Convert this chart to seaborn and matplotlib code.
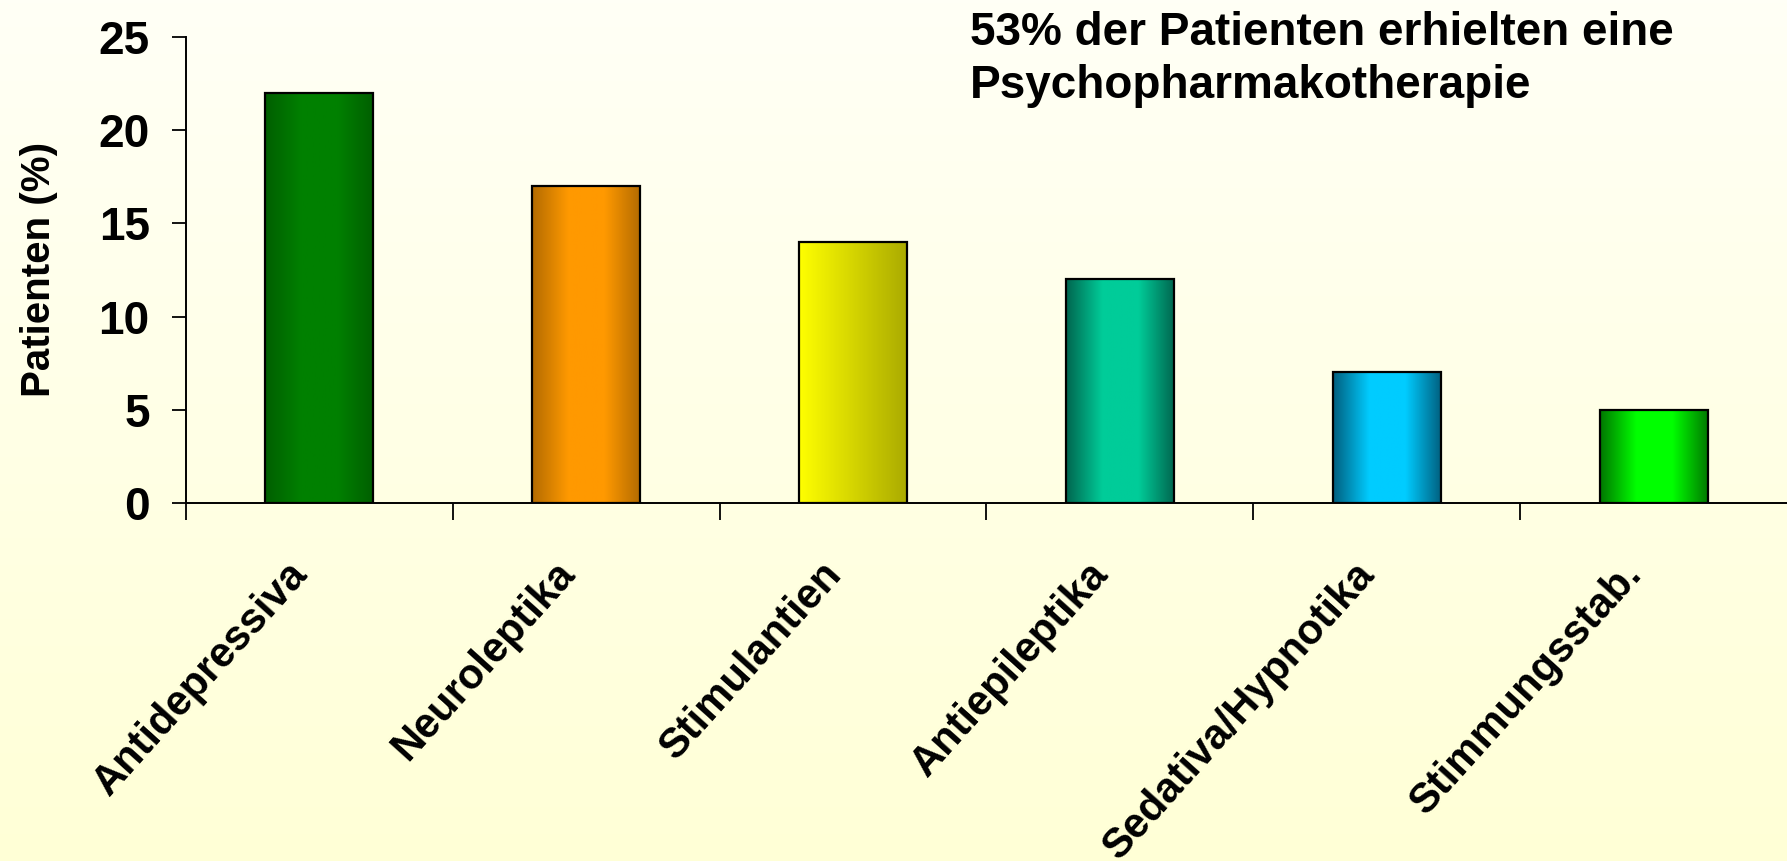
import numpy as np
import pandas as pd
import matplotlib
matplotlib.use('Agg')
import matplotlib.pyplot as plt
import matplotlib.colors as mcolors
import matplotlib.transforms as mtransforms
import seaborn as sns

# data
categories = ['Antidepressiva', 'Neuroleptika', 'Stimulantien', 'Antiepileptika',
              'Sedativa/Hypnotika', 'Stimmungsstab.']
patients_pct = [22, 17, 14, 12, 7, 5]
note_lines = ['53% der Patienten erhielten eine', 'Psychopharmakotherapie']

# (edge colour, centre colour) for the shaded bars
bar_shades = [('#005f00', '#008000'), ('#b36b00', '#ff9900'), ('#ffff00', '#aaaa00'),
              ('#00664f', '#00cc99'), ('#005f7f', '#00ccff'), ('#007800', '#00ff00')]

df = pd.DataFrame({'Gruppe': categories, 'Patienten': patients_pct})

sns.set_style('white')
plt.rcParams['font.family'] = ['Liberation Sans', 'DejaVu Sans']
plt.rcParams['font.weight'] = 'bold'
plt.rcParams['text.color'] = 'black'
plt.rcParams['axes.labelcolor'] = 'black'
plt.rcParams['xtick.color'] = 'black'
plt.rcParams['ytick.color'] = 'black'

fig = plt.figure(figsize=(17.87, 8.61), dpi=100)

# cream background gradient behind everything
bg = fig.add_axes([0, 0, 1, 1], zorder=-10)
grad = np.linspace(0, 1, 256).reshape(-1, 1)
bg_cmap = mcolors.LinearSegmentedColormap.from_list('bg', ['#fffff6', '#ffffd6'])
bg.imshow(grad, aspect='auto', cmap=bg_cmap, extent=[0, 1, 0, 1], origin='upper')
bg.axis('off')

ax = fig.add_axes([0.104, 0.416, 0.896, 0.541])
ax.patch.set_alpha(0)
sns.barplot(data=df, x='Gruppe', y='Patienten', color='white', width=0.405,
            edgecolor='black', linewidth=1.6, ax=ax)

# horizontal gradient fill, clipped to each bar
for patch, (c_edge, c_mid) in zip(ax.patches, bar_shades):
    x0, y0 = patch.get_x(), patch.get_y()
    w, h = patch.get_width(), patch.get_height()
    if c_edge == '#ffff00':
        cmap = mcolors.LinearSegmentedColormap.from_list('g', [c_edge, c_mid])
    else:
        cmap = mcolors.LinearSegmentedColormap.from_list('g', [c_edge, c_mid, c_mid, c_edge])
    img = ax.imshow(np.linspace(0, 1, 200).reshape(1, -1), cmap=cmap, aspect='auto',
                    extent=[x0, x0 + w, y0, y0 + h], zorder=patch.get_zorder() - 0.1)
    img.set_clip_path(patch)
    patch.set_facecolor('none')
    patch.set_zorder(3)

ax.set_xlim(-0.5, 5.5)
ax.set_ylim(0, 25)
ax.set_yticks([0, 5, 10, 15, 20, 25])
sns.despine(ax=ax, top=True, right=True)
for s in ['left', 'bottom']:
    ax.spines[s].set_linewidth(1.4)
    ax.spines[s].set_color('black')

ax.set_xticks(range(len(categories)))
ax.set_xticklabels(categories, rotation=48, ha='right', va='top', rotation_mode='anchor',
                   fontsize=30, fontweight='bold')
ax.set_xticks(np.arange(-0.5, 5.0, 1.0), minor=True)
ax.tick_params(axis='x', which='major', bottom=True, length=0, pad=37)
ax.tick_params(axis='x', which='minor', bottom=True, length=12, width=1.3, direction='out')
ax.tick_params(axis='y', left=True, length=10, width=1.3, direction='out', pad=16,
               labelsize=33)
for lab in ax.get_yticklabels():
    lab.set_fontweight('bold')

# nudge rotated labels so their upper end sits just left of the bar centre
shift = mtransforms.ScaledTranslation(-0.33, 0, fig.dpi_scale_trans)
for lab in ax.get_xticklabels():
    lab.set_transform(lab.get_transform() + shift)

ax.set_xlabel('')
ax.set_ylabel('Patienten (%)', fontsize=29, fontweight='bold')
ax.yaxis.set_label_coords(-0.08, 0.5)

fig.text(0.543, 1 - 45 / 861, note_lines[0], fontsize=33, fontweight='bold', va='baseline')
fig.text(0.543, 1 - 98 / 861, note_lines[1], fontsize=33, fontweight='bold', va='baseline')

fig.savefig('out.png', dpi=100)
